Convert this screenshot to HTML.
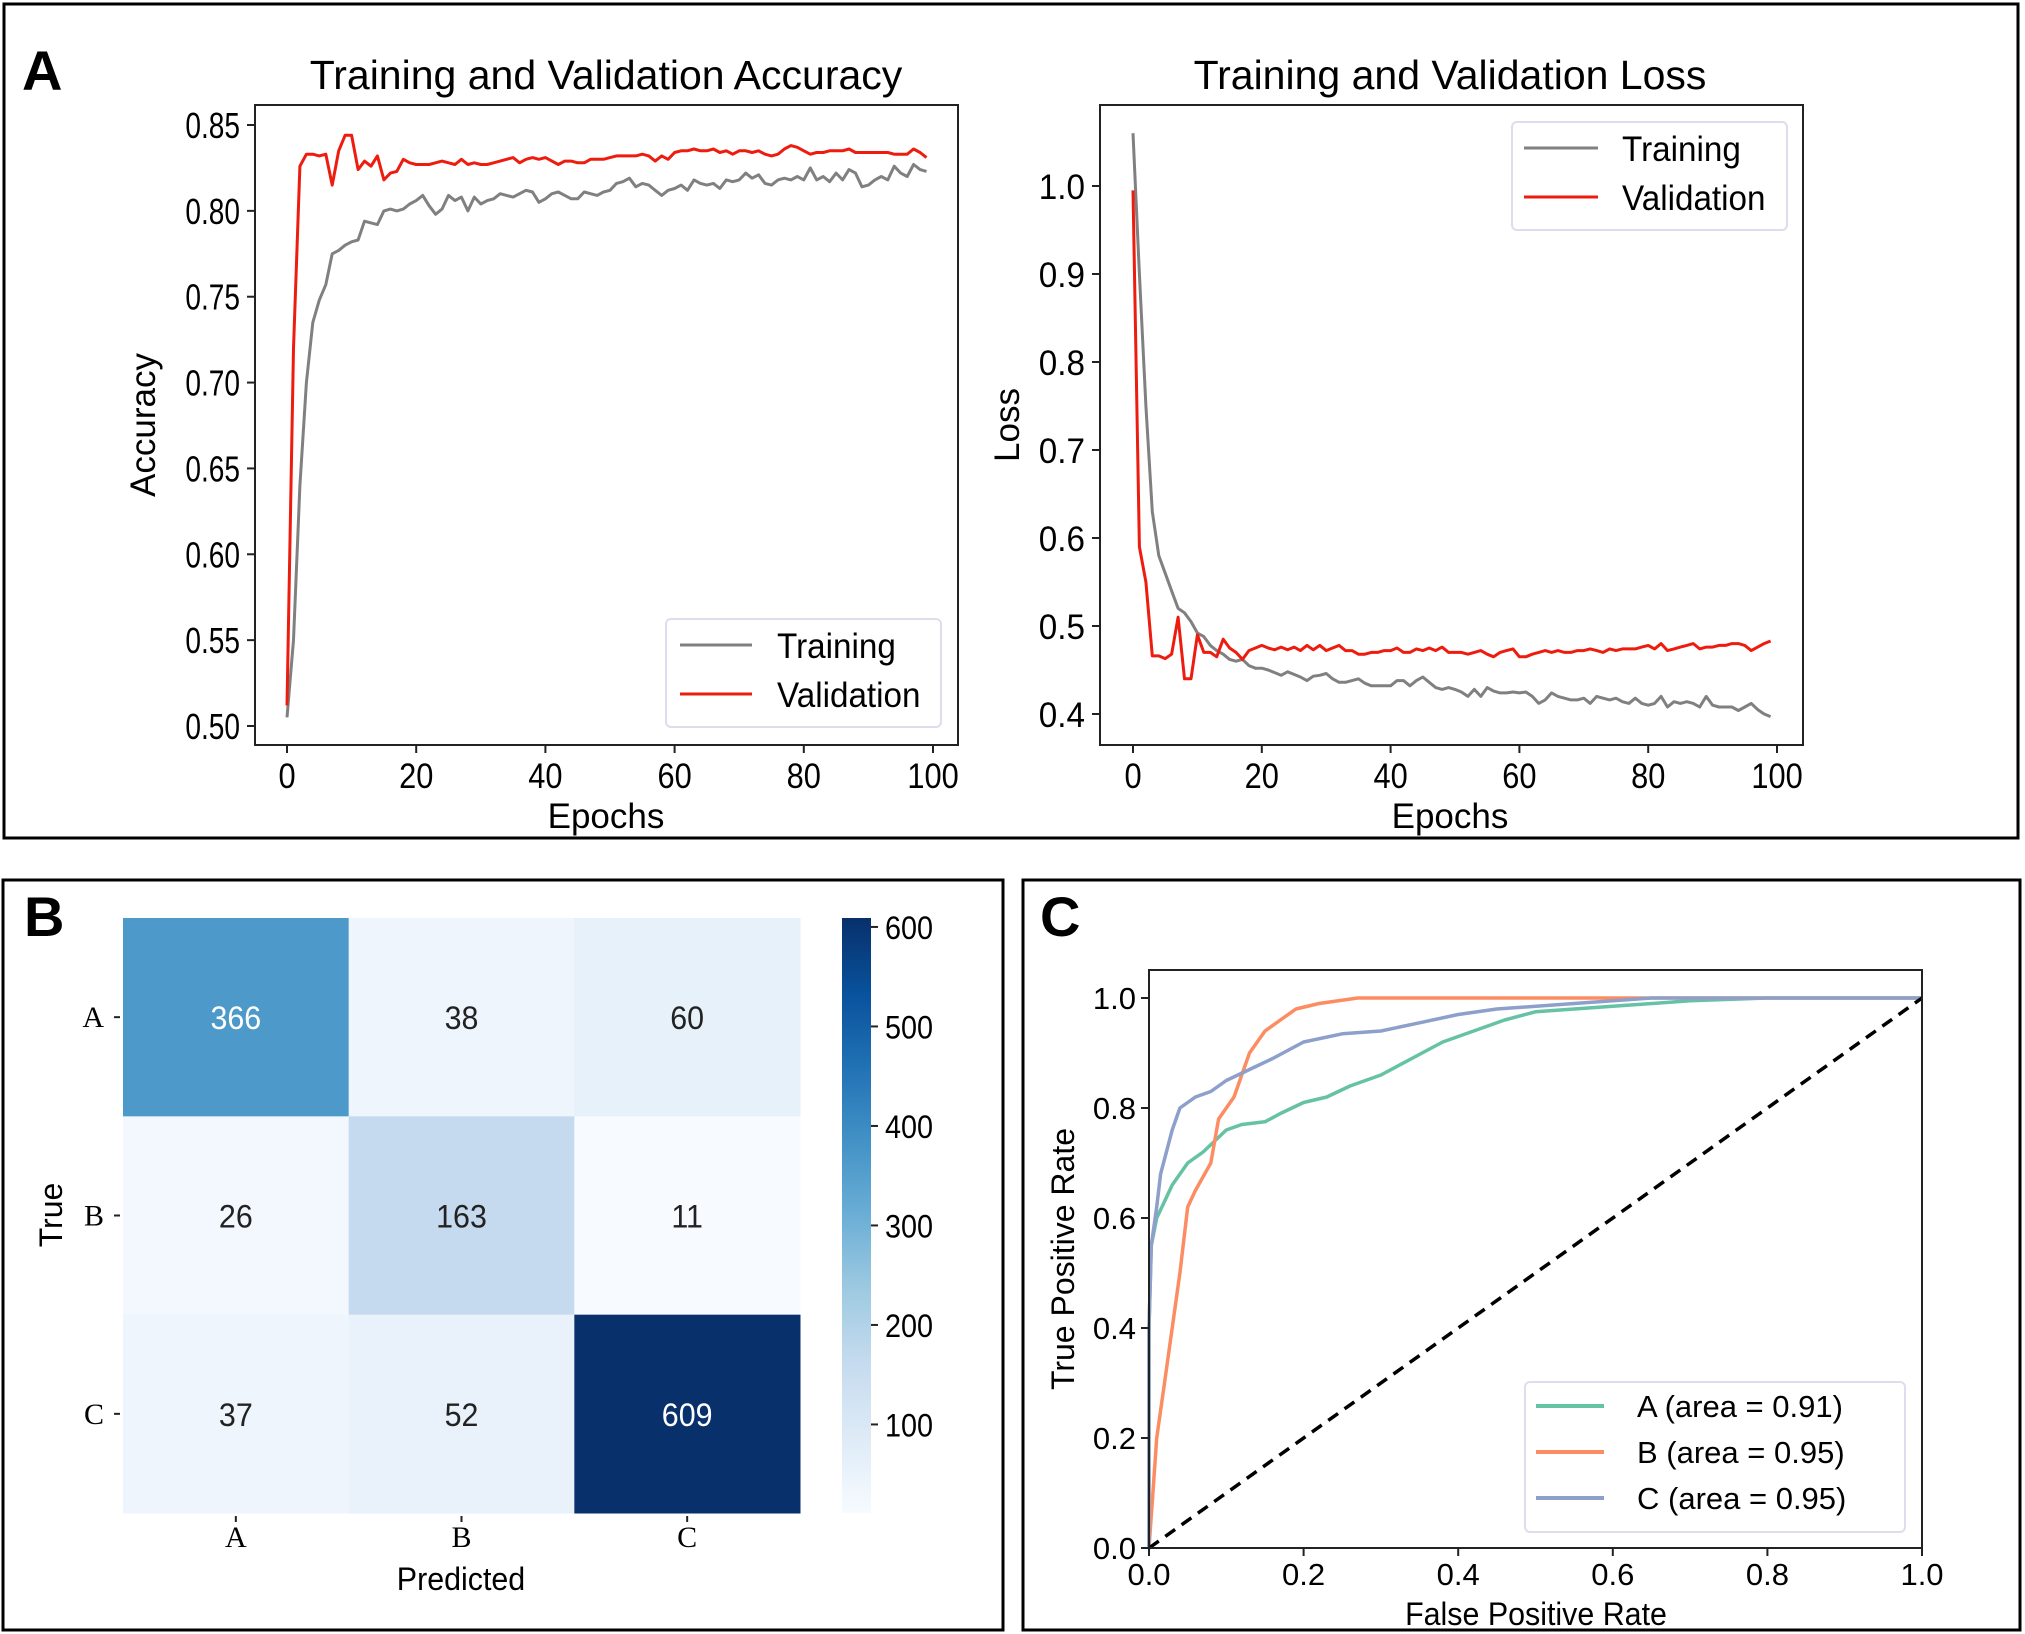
<!DOCTYPE html>
<html><head><meta charset="utf-8"><style>
html,body{margin:0;padding:0;background:#fff}
svg{display:block}
</style></head><body>
<svg id="fig" width="2025" height="1634" viewBox="0 0 2025 1634" xmlns="http://www.w3.org/2000/svg" font-family="Liberation Sans, Arial, sans-serif">
<defs>
<linearGradient id="blues" x1="0" y1="1" x2="0" y2="0">
<stop offset="0" stop-color="#f7fbff"/><stop offset="0.125" stop-color="#deebf7"/><stop offset="0.25" stop-color="#c6dbef"/><stop offset="0.375" stop-color="#9ecae1"/><stop offset="0.5" stop-color="#6baed6"/><stop offset="0.625" stop-color="#4292c6"/><stop offset="0.75" stop-color="#2171b5"/><stop offset="0.875" stop-color="#08519c"/><stop offset="1" stop-color="#08306b"/>
</linearGradient>
</defs>
<rect x="4" y="4" width="2014" height="834" fill="none" stroke="#000" stroke-width="3"/>
<rect x="3" y="880" width="1000" height="750" fill="none" stroke="#000" stroke-width="3"/>
<rect x="1023" y="880" width="997" height="750" fill="none" stroke="#000" stroke-width="3"/>
<g id="g"></g>
</svg>
<script>
const epochs = Array.from({length:100},(_, i)=>i);
const accTrain = [0.505,0.55,0.64,0.70,0.735,0.748,0.757,0.775,0.777,0.780,
0.782,0.783,0.794,0.793,0.792,0.800,0.801,0.800,0.801,0.804,
0.806,0.809,0.803,0.798,0.801,0.809,0.806,0.808,0.800,0.808,
0.804,0.806,0.807,0.810,0.809,0.808,0.810,0.812,0.811,0.805,
0.807,0.810,0.811,0.809,0.807,0.807,0.811,0.810,0.809,0.811,
0.812,0.816,0.817,0.819,0.814,0.816,0.815,0.812,0.809,0.812,
0.813,0.815,0.812,0.818,0.816,0.815,0.816,0.813,0.818,0.817,
0.818,0.822,0.819,0.821,0.816,0.815,0.818,0.819,0.818,0.820,
0.818,0.825,0.818,0.820,0.817,0.822,0.818,0.824,0.822,0.814,
0.815,0.818,0.820,0.818,0.826,0.822,0.820,0.827,0.824,0.823];
const accVal = [0.512,0.72,0.826,0.833,0.833,0.832,0.833,0.815,0.835,0.844,
0.844,0.824,0.829,0.826,0.832,0.818,0.822,0.823,0.830,0.828,
0.827,0.827,0.827,0.828,0.829,0.828,0.827,0.830,0.827,0.828,
0.827,0.827,0.828,0.829,0.830,0.831,0.828,0.830,0.831,0.830,
0.831,0.829,0.827,0.829,0.829,0.828,0.828,0.830,0.830,0.830,
0.831,0.832,0.832,0.832,0.832,0.833,0.832,0.829,0.832,0.830,
0.834,0.835,0.835,0.836,0.835,0.835,0.836,0.834,0.835,0.833,
0.835,0.835,0.834,0.835,0.833,0.832,0.833,0.836,0.838,0.837,
0.835,0.833,0.834,0.834,0.835,0.835,0.835,0.836,0.834,0.834,
0.834,0.834,0.834,0.834,0.833,0.833,0.833,0.836,0.834,0.831];
const lossTrain = [1.06,0.90,0.75,0.63,0.58,0.56,0.54,0.52,0.515,0.505,
0.492,0.488,0.478,0.472,0.468,0.462,0.460,0.462,0.455,0.452,
0.452,0.450,0.447,0.444,0.448,0.445,0.442,0.438,0.443,0.444,
0.446,0.440,0.436,0.436,0.438,0.440,0.435,0.432,0.432,0.432,
0.432,0.438,0.438,0.432,0.438,0.442,0.436,0.430,0.428,0.430,
0.428,0.425,0.420,0.428,0.420,0.430,0.426,0.424,0.424,0.425,
0.424,0.425,0.420,0.412,0.416,0.424,0.420,0.418,0.416,0.416,
0.418,0.412,0.420,0.418,0.416,0.418,0.414,0.412,0.418,0.412,
0.410,0.412,0.420,0.408,0.414,0.412,0.414,0.412,0.408,0.420,
0.410,0.408,0.408,0.408,0.404,0.408,0.412,0.405,0.400,0.397];
const lossVal = [0.995,0.59,0.55,0.466,0.466,0.463,0.468,0.510,0.440,0.440,
0.490,0.470,0.470,0.465,0.485,0.475,0.470,0.462,0.472,0.475,
0.478,0.475,0.473,0.476,0.473,0.476,0.472,0.478,0.473,0.478,
0.472,0.475,0.478,0.472,0.472,0.468,0.468,0.470,0.470,0.472,
0.472,0.475,0.470,0.470,0.474,0.472,0.475,0.472,0.476,0.470,
0.470,0.470,0.468,0.470,0.472,0.468,0.465,0.470,0.472,0.474,
0.465,0.465,0.468,0.470,0.472,0.470,0.472,0.470,0.470,0.472,
0.472,0.474,0.472,0.470,0.474,0.472,0.474,0.474,0.474,0.476,
0.478,0.474,0.480,0.472,0.474,0.476,0.478,0.480,0.474,0.476,
0.476,0.478,0.478,0.480,0.480,0.478,0.472,0.476,0.480,0.483];
const epochTicks = [0,20,40,60,80,100];
const accTicks = [0.50,0.55,0.60,0.65,0.70,0.75,0.80,0.85];
const lossTicks = [0.4,0.5,0.6,0.7,0.8,0.9,1.0];
const cmClasses = ['A','B','C'];
const cmValues = [[366,38,60],[26,163,11],[37,52,609]];
const cbTicks = [100,200,300,400,500,600];
const rocAfpr = [0,0,0.003,0.01,0.02,0.03,0.05,0.07,0.1,0.12,0.15,0.17,0.2,0.23,0.26,0.3,0.34,0.38,0.42,0.46,0.5,0.6,0.7,0.8,1];
const rocAtpr = [0,0.4,0.55,0.6,0.63,0.66,0.7,0.72,0.76,0.77,0.775,0.79,0.81,0.82,0.84,0.86,0.89,0.92,0.94,0.96,0.975,0.985,0.995,1,1];
const rocBfpr = [0,0.005,0.01,0.02,0.03,0.04,0.05,0.06,0.08,0.09,0.11,0.13,0.15,0.17,0.19,0.22,0.27,1];
const rocBtpr = [0,0.1,0.2,0.3,0.4,0.5,0.62,0.65,0.7,0.78,0.82,0.9,0.94,0.96,0.98,0.99,1,1];
const rocCfpr = [0,0,0.003,0.01,0.015,0.03,0.04,0.06,0.08,0.1,0.13,0.16,0.2,0.25,0.3,0.35,0.4,0.45,0.55,0.65,1];
const rocCtpr = [0,0.4,0.55,0.62,0.68,0.76,0.8,0.82,0.83,0.85,0.87,0.89,0.92,0.935,0.94,0.955,0.97,0.98,0.99,1,1];
const rocTicks = [0,0.2,0.4,0.6,0.8,1.0];
const rocLabels = ['A  (area = 0.91)','B (area = 0.95)','C (area = 0.95)'];

const NS='http://www.w3.org/2000/svg';
const G=document.getElementById('g');
function mk(tag,attrs,parent){const e=document.createElementNS(NS,tag);for(const k in attrs)e.setAttribute(k,attrs[k]);(parent||G).appendChild(e);return e;}
function txt(x,y,s,size,anchor,sx,extra){
  const e=mk('text',Object.assign({x:0,y:0,'font-size':size,fill:'#000','text-anchor':anchor||'start',transform:`translate(${x},${y}) scale(${sx||1},1)`},extra||{}));
  e.textContent=s;return e;}
function line(x1,y1,x2,y2,stroke,w,extra){return mk('line',Object.assign({x1,y1,x2,y2,stroke,'stroke-width':w},extra||{}));}
function poly(xs,ys,fx,fy,color,w,name,dash){
  const pts=xs.map((v,i)=>fx(v).toFixed(1)+','+fy(ys[i]).toFixed(1)).join(' ');
  const p=mk('polyline',{points:pts,fill:'none',stroke:color,'stroke-width':w,'stroke-linejoin':'round'});
  if(dash)p.setAttribute('stroke-dasharray',dash);
  
  
  return p;}

let e=txt(22,90,'A',56,'start',1,{'font-weight':'bold'});



// Accuracy chart
const ax=v=>287+v/100*646, ay=v=>726-(v-0.5)/0.35*601;
poly(epochs,accTrain,ax,ay,'#808080',3,'accuracy-training-line');
poly(epochs,accVal,ax,ay,'#ee1c0e',3,'accuracy-validation-line');
e=mk('rect',{x:255,y:105,width:703,height:640,fill:'none',stroke:'#222','stroke-width':2});


accTicks.forEach(v=>{line(247,ay(v),255,ay(v),'#222',2);
  const t=txt(240,ay(v)+13,v.toFixed(2),36,'end',0.78);
  
  });
epochTicks.forEach(v=>{line(ax(v),745,ax(v),753,'#222',2);
  const t=txt(ax(v),788,String(v),35,'middle',0.88);
  
  });
e=txt(606,89,'Training and Validation Accuracy',41,'middle',1);


e=txt(606,828,'Epochs',35,'middle',1);


e=mk('text',{x:0,y:0,'font-size':35,fill:'#000','text-anchor':'middle',transform:'translate(155,425) rotate(-90)'});e.textContent='Accuracy';


e=mk('rect',{x:666,y:619,width:275,height:108,rx:5,fill:'#fff',stroke:'#dde','stroke-width':2});


line(680,645,752,645,'#808080',3);line(680,694,752,694,'#ee1c0e',3);
txt(777,658,'Training',35,'start',0.95);txt(777,707,'Validation',35,'start',0.95);

// Loss chart
const lx=v=>1133+v*6.44, ly=v=>714-(v-0.4)/0.6*528;
poly(epochs,lossTrain,lx,ly,'#808080',3,'loss-training-line');
poly(epochs,lossVal,lx,ly,'#ee1c0e',3,'loss-validation-line');
e=mk('rect',{x:1100,y:105,width:703,height:640,fill:'none',stroke:'#222','stroke-width':2});


lossTicks.forEach(v=>{line(1092,ly(v),1100,ly(v),'#222',2);
  const t=txt(1085,ly(v)+13,v.toFixed(1),35,'end',0.95);
  
  });
epochTicks.forEach(v=>{line(lx(v),745,lx(v),753,'#222',2);
  const t=txt(lx(v),788,String(v),35,'middle',0.88);
  
  });
e=txt(1450,89,'Training and Validation Loss',41,'middle',1);


e=txt(1450,828,'Epochs',35,'middle',1);


e=mk('text',{x:0,y:0,'font-size':35,fill:'#000','text-anchor':'middle',transform:'translate(1019,425) rotate(-90)'});e.textContent='Loss';


e=mk('rect',{x:1512,y:122,width:275,height:108,rx:5,fill:'#fff',stroke:'#dde','stroke-width':2});


line(1524,148,1598,148,'#808080',3);line(1524,197,1598,197,'#ee1c0e',3);
txt(1622,161,'Training',35,'start',0.95);txt(1622,210,'Validation',35,'start',0.95);

// Panel B confusion matrix
e=txt(24,936,'B',56,'start',1,{'font-weight':'bold'});


const stops=['#f7fbff','#deebf7','#c6dbef','#9ecae1','#6baed6','#4292c6','#2171b5','#08519c','#08306b'];
function hex(c){return [1,3,5].map(i=>parseInt(c.substr(i,2),16));}
const vmin=11,vmax=609;
function blues(v){let t=Math.max(0,Math.min(1,(v-vmin)/(vmax-vmin)))*8;const i=Math.min(7,Math.floor(t)),f=t-i;const a=hex(stops[i]),b=hex(stops[i+1]);return 'rgb('+a.map((x,k)=>Math.round(x+(b[k]-x)*f)).join(',')+')';}
const cx0=123,cy0=918,cw=(800-123)/3,ch=(1513-918)/3;
cmValues.forEach((row,r)=>row.forEach((v,c)=>{
  const cell=mk('rect',{x:cx0+c*cw,y:cy0+r*ch,width:cw+0.5,height:ch+0.5,fill:blues(v)});
  
  
  const t=txt(cx0+(c+0.5)*cw,cy0+(r+0.5)*ch+12,String(v),32,'middle',0.95);
  t.setAttribute('fill',v>300?'#ffffff':'#222222');
  
  }));
cmClasses.forEach((s,i)=>{
  const yy=cy0+(i+0.5)*ch;line(114,yy,120,yy,'#222',2);
  let t=mk('text',{x:104,y:yy+10,'font-size':30,fill:'#000','text-anchor':'end','font-family':'Liberation Serif, serif'});t.textContent=s;
  
  
  const xx=cx0+(i+0.5)*cw;line(xx,1516,xx,1522,'#222',2);
  t=mk('text',{x:xx,y:1547,'font-size':30,fill:'#000','text-anchor':'middle','font-family':'Liberation Serif, serif'});t.textContent=s;
  
  });
e=txt(461,1590,'Predicted',32,'middle',0.95);


e=mk('text',{x:0,y:0,'font-size':32,fill:'#000','text-anchor':'middle',transform:'translate(62,1215) rotate(-90)'});e.textContent='True';


const cby=v=>1513-(v-vmin)/(vmax-vmin)*595;
e=mk('rect',{x:842,y:918,width:29,height:595,fill:'url(#blues)'});


cbTicks.forEach(v=>{line(871,cby(v),878,cby(v),'#222',2);
  const t=txt(885,cby(v)+12,String(v),32,'start',0.9);
  
  });

// Panel C ROC
e=txt(1040,936,'C',56,'start',1,{'font-weight':'bold'});


const rx=v=>1149+v*773, ry=v=>1548-v*550;
poly(rocAfpr,rocAtpr,rx,ry,'#66c2a5',3.5,'roc-curve-a');
poly(rocBfpr,rocBtpr,rx,ry,'#fc8d62',3.5,'roc-curve-b');
poly(rocCfpr,rocCtpr,rx,ry,'#8da0cb',3.5,'roc-curve-c');
poly([0,1],[0,1],rx,ry,'#000',3.5,'roc-chance-line','12,8');
e=mk('rect',{x:1149,y:970,width:773,height:578,fill:'none',stroke:'#222','stroke-width':2});


rocTicks.forEach(v=>{
  line(1141,ry(v),1149,ry(v),'#222',2);
  let t=txt(1136,ry(v)+11,v.toFixed(1),31,'end',1);
  
  
  line(rx(v),1548,rx(v),1556,'#222',2);
  t=txt(rx(v),1585,v.toFixed(1),31,'middle',1);
  
  });
e=txt(1536,1625,'False Positive Rate',32,'middle',0.95);


e=mk('text',{x:0,y:0,'font-size':32,fill:'#000','text-anchor':'middle',transform:'translate(1074,1259) rotate(-90)'});e.textContent='True Positive Rate';


e=mk('rect',{x:1525,y:1382,width:380,height:150,rx:5,fill:'#fff',stroke:'#dde','stroke-width':2});


['#66c2a5','#fc8d62','#8da0cb'].forEach((c,i)=>{
  const yy=1406+i*46;line(1536,yy,1604,yy,c,4);
  const t=txt(1637,yy+11,rocLabels[i],31,'start',1);
  
  });
</script>
</body></html>
